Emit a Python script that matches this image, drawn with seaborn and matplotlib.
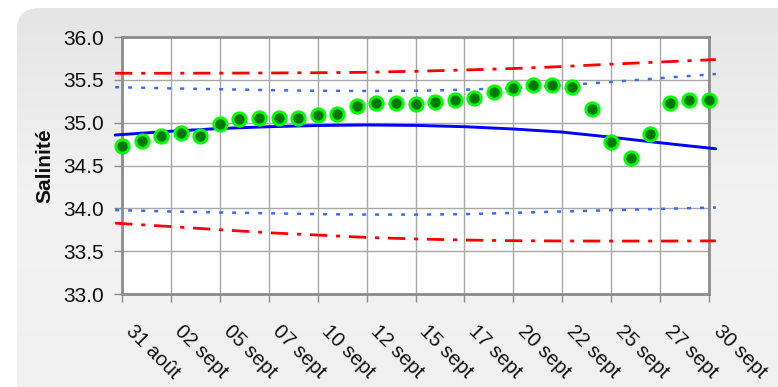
import numpy as np
import pandas as pd
import matplotlib
matplotlib.use("Agg")
import matplotlib.pyplot as plt
import seaborn as sns
from matplotlib.patches import FancyBboxPatch
from matplotlib.colors import LinearSegmentedColormap
from matplotlib.transforms import ScaledTranslation

# ---- data -------------------------------------------------------------
tick_days = [0, 2.5, 5, 7.5, 10, 12.5, 15, 17.5, 20, 22.5, 25, 27.5, 30]
tick_labels = ["31 août", "02 sept", "05 sept", "07 sept", "10 sept", "12 sept",
               "15 sept", "17 sept", "20 sept", "22 sept", "25 sept", "27 sept",
               "30 sept"]

obs_days = list(range(31))
salinity = [34.73, 34.79, 34.85, 34.88, 34.85, 34.98, 35.04, 35.06, 35.06, 35.06,
            35.09, 35.10, 35.19, 35.225, 35.225, 35.22, 35.24, 35.265, 35.29, 35.355,
            35.41, 35.435, 35.435, 35.415, 35.155, 34.77, 34.59, 34.865, 35.235,
            35.265, 35.27]

curve_days = [-0.35, 2.5, 5, 7.5, 10, 12.5, 15, 17.5, 20, 22.5, 25, 27.5, 30.35]
trend = [34.856, 34.90, 34.932, 34.953, 34.967, 34.973, 34.968, 34.953, 34.926,
         34.89, 34.83, 34.765, 34.695]
upper_inner = [35.415, 35.40, 35.39, 35.38, 35.372, 35.37, 35.372, 35.385, 35.405,
               35.435, 35.475, 35.52, 35.568]
lower_inner = [33.98, 33.963, 33.952, 33.942, 33.932, 33.927, 33.927, 33.932,
               33.947, 33.963, 33.978, 33.993, 34.01]
upper_outer = [35.577, 35.577, 35.578, 35.58, 35.583, 35.588, 35.60, 35.615, 35.632,
               35.655, 35.683, 35.708, 35.737]
lower_outer = [33.827, 33.787, 33.75, 33.715, 33.688, 33.66, 33.643, 33.63, 33.622,
               33.619, 33.618, 33.618, 33.62]

# ---- style ------------------------------------------------------------
sns.set_theme(style="white")
plt.rcParams["font.family"] = ["Liberation Sans", "DejaVu Sans"]

W, H = 778, 387
fig = plt.figure(figsize=(W / 100, H / 100), dpi=100)
fig.patch.set_facecolor("white")

# rounded grey panel with a soft vertical gradient
bg = fig.add_axes([0, 0, 1, 1], zorder=-10)
bg.axis("off")
grad = np.linspace(0, 1, 256)[:, None]
cmap = LinearSegmentedColormap.from_list("panel", ["#e5e5e5", "#f3f3f3", "#f0f0f0"])
im = bg.imshow(grad, extent=(17, 800, 400, 8), cmap=cmap, aspect="auto",
               interpolation="bilinear")
panel = FancyBboxPatch((17, 8), 800, 400, boxstyle="round,pad=0,rounding_size=22",
                       transform=bg.transData, facecolor="none", edgecolor="none")
bg.add_patch(panel)
im.set_clip_path(panel)
bg.set_xlim(0, W)
bg.set_ylim(H, 0)

# plot area
left, right, top, bottom = 122, 709, 37, 294
ax = fig.add_axes([left / W, (H - bottom) / H, (right - left) / W, (bottom - top) / H])
ax.set_facecolor("white")

red = "#ff0000"
dot_blue = "#3a6cf4"

def curve(values, color, lw, dashes=None):
    sns.lineplot(x=curve_days, y=values, ax=ax, color=color, linewidth=lw,
                 clip_on=False, zorder=3)
    line = ax.lines[-1]
    line.set_clip_on(False)
    if dashes is not None:
        line.set_dashes(dashes)
    return line

curve(upper_outer, red, 2.0, (6.2, 3.2, 1.45, 3.2))
curve(lower_outer, red, 2.0, (6.2, 3.2, 1.45, 3.2))
curve(upper_inner, dot_blue, 1.8, (1.6, 3.6))
curve(lower_inner, dot_blue, 1.8, (1.6, 3.6))
curve(trend, "#0000ff", 2.1)

obs = pd.DataFrame({"day": obs_days, "salinity": salinity})
sns.scatterplot(data=obs, x="day", y="salinity", ax=ax, s=92, color="#007800",
                edgecolor="#00ff00", linewidth=2.1, zorder=5, clip_on=False)

ax.set_xlim(0, 30)
ax.set_ylim(33.0, 36.0)
ax.set_yticks(np.arange(33.0, 36.01, 0.5))
ax.set_yticklabels([f"{v:.1f}" for v in np.arange(33.0, 36.01, 0.5)])
ax.set_xticks(tick_days)
ax.set_xticklabels(tick_labels, rotation=-45, ha="left", va="top",
                   rotation_mode="anchor")

ax.grid(True, color="#a8a8a8", linewidth=1)
ax.set_axisbelow(True)
for s in ax.spines.values():
    s.set_visible(True)
    s.set_color("#8c8c8c")
    s.set_linewidth(2)

ax.tick_params(axis="both", which="both", direction="out", length=6, width=1,
               color="#8c8c8c", labelcolor="#111111", bottom=True, left=True)
ax.tick_params(axis="y", pad=7.0, labelsize=15)
ax.tick_params(axis="x", pad=13.5, labelsize=14.5)

shift = ScaledTranslation(14 / 100, 0, fig.dpi_scale_trans)
for lab in ax.get_xticklabels():
    lab.set_transform(lab.get_transform() + shift)

ax.set_xlabel("")
ax.set_ylabel("Salinité", fontsize=15, fontweight="bold", color="#111111")
ax.yaxis.label.set_va("center")
ax.yaxis.set_label_coords((44.5 - left) / (right - left), 0.5)

fig.savefig("out.png", dpi=100)
